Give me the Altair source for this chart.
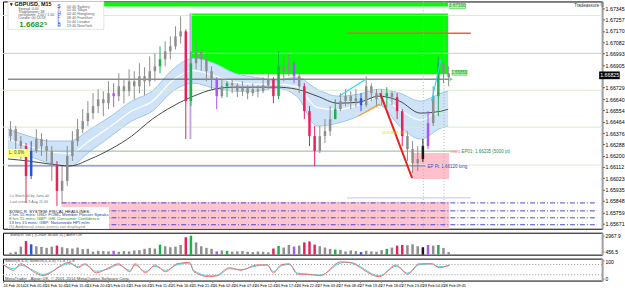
import json
import altair as alt
import pandas as pd

# ---------------- data ----------------
first_open = 1.66352
candle_close = [
    1.66406, 1.66313, 1.66274, 1.66041, 1.66236, 1.66329, 1.66274, 1.66236, 1.66119, 1.65925,
    1.66003, 1.66197, 1.66313, 1.66406, 1.66468, 1.66531, 1.66585, 1.66639, 1.66608, 1.66686,
    1.66663, 1.66740, 1.66701, 1.66779, 1.66740, 1.66818, 1.66779, 1.66857, 1.66895, 1.66950,
    1.67012, 1.67051, 1.67128, 1.67167, 1.66624, 1.66919, 1.67012, 1.66950, 1.66857, 1.66794,
    1.66663, 1.66740, 1.66763, 1.66748, 1.66701, 1.66725, 1.66686, 1.66717, 1.66701, 1.66748,
    1.66794, 1.66663, 1.66895, 1.66857, 1.66919, 1.66818, 1.66740, 1.66546, 1.66352, 1.66236,
    1.66352, 1.66391, 1.66484, 1.66562, 1.66624, 1.66663, 1.66624, 1.66647, 1.66593, 1.66740,
    1.66686, 1.66639, 1.66663, 1.66686, 1.66655, 1.66546, 1.66352, 1.66251, 1.66142, 1.66173,
    1.66274, 1.66453, 1.66663, 1.66919, 1.66841, 1.66810]
candle_high = [
    1.66468, 1.66430, 1.66352, 1.66298, 1.66313, 1.66406, 1.66375, 1.66329, 1.66274, 1.66158,
    1.66119, 1.66274, 1.66391, 1.66484, 1.66562, 1.66624, 1.66686, 1.66717, 1.66701, 1.66779,
    1.66763, 1.66841, 1.66794, 1.66872, 1.66857, 1.66919, 1.66888, 1.66973, 1.66996, 1.67051,
    1.67089, 1.67128, 1.67206, 1.67284, 1.67183, 1.67012, 1.67089, 1.67027, 1.66973, 1.66895,
    1.66810, 1.66794, 1.66779, 1.66794, 1.66763, 1.66779, 1.66748, 1.66763, 1.66748, 1.66810,
    1.66841, 1.66810, 1.67012, 1.66973, 1.66996, 1.66934, 1.66857, 1.66763, 1.66585, 1.66430,
    1.66430, 1.66484, 1.66585, 1.66639, 1.66686, 1.66717, 1.66701, 1.66717, 1.66686, 1.66818,
    1.66763, 1.66717, 1.66717, 1.66733, 1.66701, 1.66686, 1.66562, 1.66391, 1.66313, 1.66274,
    1.66329, 1.66546, 1.66740, 1.66973, 1.66950, 1.66895]
candle_low = [
    1.66313, 1.66251, 1.66173, 1.65832, 1.66018, 1.66220, 1.66197, 1.66158, 1.66003, 1.65809,
    1.65824, 1.65964, 1.66158, 1.66274, 1.66375, 1.66430, 1.66484, 1.66531, 1.66507, 1.66562,
    1.66577, 1.66624, 1.66608, 1.66663, 1.66639, 1.66686, 1.66670, 1.66740, 1.66779, 1.66841,
    1.66895, 1.66950, 1.67027, 1.67074, 1.66329, 1.66585, 1.66872, 1.66857, 1.66779, 1.66717,
    1.66562, 1.66647, 1.66655, 1.66686, 1.66655, 1.66663, 1.66639, 1.66663, 1.66655, 1.66686,
    1.66717, 1.66608, 1.66639, 1.66779, 1.66818, 1.66763, 1.66686, 1.66484, 1.66274, 1.66119,
    1.66220, 1.66298, 1.66352, 1.66484, 1.66546, 1.66585, 1.66562, 1.66577, 1.66546, 1.66577,
    1.66624, 1.66577, 1.66593, 1.66577, 1.66593, 1.66484, 1.66274, 1.66158, 1.66065, 1.66080,
    1.66150, 1.66250, 1.66430, 1.66507, 1.66763, 1.66740]
candle_signal = [
    "flat", "flat", "flat", "down", "blue", "flat", "flat", "flat", "flat", "down",
    "flat", "flat", "flat", "flat", "flat", "flat", "flat", "flat", "flat", "flat",
    "climax", "flat", "flat", "flat", "flat", "flat", "flat", "flat", "flat", "up",
    "flat", "flat", "flat", "flat", "down", "up", "flat", "flat", "flat", "flat",
    "climax", "flat", "up", "flat", "flat", "flat", "flat", "flat", "flat", "flat",
    "flat", "down", "up", "flat", "flat", "climax", "flat", "down", "down", "down",
    "flat", "flat", "flat", "up", "flat", "flat", "flat", "flat", "blue", "flat",
    "flat", "flat", "flat", "up", "flat", "down", "down", "flat", "flat", "flat",
    "dark", "climax", "flat", "up", "flat", "flat"]
volume = [
    300, 450, 1250, 2100, 1600, 1300, 1200, 1050, 1250, 1400,
    1150, 1000, 950, 1100, 850, 900, 450, 600, 550, 500,
    600, 450, 550, 500, 650, 700, 900, 1050, 950, 1550,
    1300, 1150, 1250, 1500, 2700, 2950, 1900, 1300, 1050, 900,
    500, 650, 600, 450, 500, 550, 450, 400, 500, 450,
    350, 950, 1350, 1100, 1500, 1250, 1400, 1900, 2050, 1550,
    1300, 1100, 900, 800, 750, 500, 650, 550, 400, 600,
    500, 450, 700, 900, 1100, 1400, 1500, 1450, 1600, 1300,
    1150, 1500, 1400, 1500, 1050, 400]

band_bar = [0, 20, 40, 60, 80, 100, 120, 140, 160, 180, 200, 220, 240, 260, 280,
            300, 320, 340, 360, 380, 400, 420, 427]
band_hi = [1.66407, 1.66352, 1.66314, 1.66314, 1.66407, 1.66508, 1.66624, 1.66702, 1.66872,
           1.66958, 1.66919, 1.66841, 1.66810, 1.66787, 1.66810, 1.66717, 1.66663, 1.66678,
           1.66717, 1.66686, 1.66624, 1.66686, 1.66702]
band_lo = [1.66252, 1.66197, 1.66143, 1.66120, 1.66236, 1.66352, 1.66469, 1.66546, 1.66702,
           1.66764, 1.66725, 1.66702, 1.66702, 1.66725, 1.66663, 1.66430, 1.66453, 1.66508,
           1.66593, 1.66430, 1.66329, 1.66414, 1.66430]
ma_slow = [1.66174, 1.66158, 1.66135, 1.66120, 1.66174, 1.66252, 1.66352, 1.66484, 1.66585,
           1.66663, 1.66717, 1.66733, 1.66733, 1.66733, 1.66717, 1.66663, 1.66608, 1.66616,
           1.66663, 1.66624, 1.66531, 1.66546, 1.66562]

osc_bar = [0, 10, 17, 29, 38, 63, 72, 78, 89, 101, 110, 121, 126, 136, 145, 155, 166, 178,
           182, 197, 204, 216, 227, 242, 252, 258, 265, 273, 281, 288, 303, 322, 330, 359,
           375, 386, 397, 409, 416, 426]
osc_main = [84, 46, 84, 38, 15, 92, 61, 84, 31, 61, 84, 38, 84, 31, 77, 38, 84, 92, 38, 8,
            15, 61, 46, 77, 77, 31, 77, 84, 23, 23, 15, 95, 92, 8, 77, 23, 84, 84, 61, 77]
osc_signal = [80, 55, 75, 45, 22, 85, 68, 78, 40, 55, 78, 45, 76, 38, 70, 45, 78, 88, 45, 14,
              14, 55, 50, 72, 78, 38, 70, 80, 30, 25, 18, 88, 93, 14, 70, 30, 78, 84, 66, 74]

time_ticks = list(range(0, 421, 20))
time_labels = ["24 Feb 2014", "24 Feb 05:45", "24 Feb 10:45", "24 Feb 15:45", "24 Feb 20:45",
               "25 Feb 01:45", "25 Feb 06:45", "25 Feb 11:45", "25 Feb 16:45", "25 Feb 21:45",
               "26 Feb 02:45", "26 Feb 07:45", "26 Feb 12:45", "26 Feb 17:45", "26 Feb 22:45",
               "27 Feb 03:45", "27 Feb 08:45", "27 Feb 13:45", "27 Feb 18:45", "27 Feb 23:45",
               "28 Feb 04:45", "28 Feb 09:45"]
price_ticks = [1.67345, 1.67257, 1.67170, 1.67082, 1.66993, 1.66905, 1.66729, 1.66640,
               1.66554, 1.66464, 1.66376, 1.66288, 1.66200, 1.66112, 1.66023, 1.65935,
               1.65848, 1.65759, 1.65671]
last_price = 1.66825

pale_levels = [1.67291, 1.66709, 1.66422, 1.66127]
lavender_level = 1.66996
dash_levels = [1.65832, 1.65770, 1.65716, 1.65662]

FONT = "Liberation Sans"
W, H_MAIN, H_VOL, H_OSC = 601, 228, 22, 22
X_END = 571.5                      # 1 bar ~ 1.05 px
X_DOMAIN = [0, X_END]
PRICE_DOMAIN = [1.65631, 1.67400]

xs = alt.Scale(domain=X_DOMAIN, nice=False, zero=False)
ys = alt.Scale(domain=PRICE_DOMAIN, nice=False, zero=False)
sig_domain = ["flat", "down", "up", "climax", "blue", "dark"]
sig_scale = alt.Scale(domain=sig_domain,
                      range=["#8e8e8e", "#e3245c", "#1fb04a", "#a855f7", "#2a56d6", "#1a1a1a"])
vol_sig_scale = alt.Scale(domain=sig_domain,
                          range=["#c6c6c6", "#e3245c", "#1fb04a", "#8a2be2", "#2a56d6", "#9a9a9a"])

n = len(candle_close)
cdf = pd.DataFrame({
    "bar": [i * 5 + 2.5 for i in range(n)],
    "open": [first_open] + candle_close[:-1],
    "close": candle_close, "high": candle_high, "low": candle_low,
    "sig": candle_signal, "vol": volume,
})
bdf = pd.DataFrame({"bar": band_bar, "hi": band_hi, "lo": band_lo, "ma": ma_slow})
odf = pd.DataFrame({"bar": osc_bar, "k": osc_main, "d": osc_signal})

price_axis = alt.Axis(orient="right", values=price_ticks, format=".5f", labelFontSize=5.3,
                      labelFont=FONT, labelColor="#000", tickSize=2, tickColor="#000",
                      domainColor="#a0a0a0", domainWidth=2, grid=False, title=None,
                      labelPadding=1, labelOverlap=False)


def X(f="bar", axis=None):
    return alt.X(f"{f}:Q", scale=xs, axis=axis)


def Y(f, axis=price_axis, scale=ys):
    return alt.Y(f"{f}:Q", scale=scale, axis=axis)


def rect(x1, x2, p1, p2, **kw):
    return alt.Chart(pd.DataFrame({"a": [x1], "b": [x2], "p": [p1], "q": [p2]})).mark_rect(**kw).encode(
        x=X("a"), x2="b", y=Y("p"), y2="q")


def seg(x1, x2, p1, p2, **kw):
    return alt.Chart(pd.DataFrame({"a": [x1], "b": [x2], "p": [p1], "q": [p2]})).mark_rule(**kw).encode(
        x=X("a"), x2="b", y=Y("p"), y2="q")


def hline(x1, x2, p, **kw):
    return alt.Chart(pd.DataFrame({"a": [x1], "b": [x2], "p": [p]})).mark_rule(**kw).encode(
        x=X("a"), x2="b", y=Y("p"))


def texts(bars, prices, labels, color, size=4.5, weight="normal", align="left",
          yscale=ys, yaxis=price_axis, xaxis=None):
    df = pd.DataFrame({"bar": bars, "p": prices, "t": labels})
    return alt.Chart(df).mark_text(color=color, fontSize=size, fontWeight=weight, align=align,
                                   baseline="middle", font=FONT).encode(
        x=X("bar", xaxis), y=Y("p", yaxis, yscale), text="t:N")


# ---------------- main panel ----------------
green_strip = rect(93, 427, 1.67361, 1.67392, color="#00ff00")
green_zone = rect(178, 427, 1.66834, 1.67307, color="#00ff00")
pink_zone = rect(52, 428, 1.65631, 1.65840, color="#ffc6cf")
pink_small = rect(392, 428, 1.66018, 1.66220, color="#ffc0cb")

band = alt.Chart(bdf).mark_area(color="#cfe3f8", interpolate="monotone").encode(
    x=X("bar"), y=Y("hi"), y2="lo")
band_hi_l = alt.Chart(bdf).mark_line(color="#9ec4ec", strokeWidth=1, interpolate="monotone").encode(
    x=X("bar"), y=Y("hi"))
band_lo_l = alt.Chart(bdf).mark_line(color="#9ec4ec", strokeWidth=1, interpolate="monotone").encode(
    x=X("bar"), y=Y("lo"))
band_mid = alt.Chart(bdf).transform_calculate(mid="(datum.hi + datum.lo) / 2").mark_line(
    color="#ffffff", strokeWidth=1.2, interpolate="monotone").encode(x=X("bar"), y=Y("mid"))
ma_line = alt.Chart(bdf).mark_line(color="#333333", strokeWidth=0.9, interpolate="monotone").encode(
    x=X("bar"), y=Y("ma"))

pale = alt.Chart(pd.DataFrame({"p": pale_levels})).mark_rule(color="#d9ebd2", strokeWidth=1).encode(y=Y("p"))
lav = alt.Chart(pd.DataFrame({"p": [lavender_level]})).mark_rule(color="#c8c8f2", strokeWidth=1).encode(y=Y("p"))
dashes = alt.Chart(pd.DataFrame({"p": dash_levels, "a": [52] * 4, "b": [X_END] * 4})).mark_rule(
    color="#4b4bd0", strokeWidth=1, strokeDash=[5, 2, 1, 2]).encode(x=X("a"), x2="b", y=Y("p"))
grey_line = hline(0, 428, 1.66795, color="#555555", strokeWidth=1)
ep_line = hline(0, 436, 1.66235, color="#93b593", strokeWidth=1)
entry_line = hline(0, 405, 1.66120, color="#6464e0", strokeWidth=1)
pivot_line = hline(329, 449, 1.65871, color="#c4c4f2", strokeWidth=1)
red_line = hline(329, 449, 1.67152, color="#f0603c", strokeWidth=1.5)
seps = alt.Chart(pd.DataFrame({"a": [403, 423]})).mark_rule(color="#b5b5b5", strokeDash=[1, 2]).encode(x=X("a"))
vline = seg(177, 177, 1.67307, 1.66329, color="#c9a6e6", strokeWidth=2)

wicks = alt.Chart(cdf).mark_rule(strokeWidth=1).encode(
    x=X("bar"), y=Y("low"), y2="high", color=alt.Color("sig:N", scale=sig_scale, legend=None))
bodies = alt.Chart(cdf).mark_bar(size=2.5).encode(
    x=X("bar"), y=Y("open"), y2="close", color=alt.Color("sig:N", scale=sig_scale, legend=None))

red_trend = seg(361, 392, 1.66686, 1.66026, color="#ee1c1c", strokeWidth=2)
cyan1 = seg(321, 347, 1.66663, 1.66795, color="#33d6e6", strokeWidth=1.2)
cyan2 = seg(411, 420, 1.66624, 1.66950, color="#33d6e6", strokeWidth=1.2)
orange = seg(340, 361, 1.66508, 1.66601, color="#ffa020", strokeWidth=1.2)
arrow = alt.Chart(pd.DataFrame({"bar": [430], "p": [1.66795]})).mark_point(
    shape="triangle-right", filled=True, color="#22bb22", size=12).encode(x=X("bar"), y=Y("p"))

lbl_box1 = rect(428, 444, 1.67345, 1.67380, color="#b9f3b9", stroke="#3ccc3c", strokeWidth=0.6)
lbl_box2 = rect(431, 445, 1.66826, 1.66862, color="#b9f3b9", stroke="#3ccc3c", strokeWidth=0.6)
lbl_txt = texts([436, 438], [1.67362, 1.66844], ["1.67330", "1.66860"], "#1d9a1d", size=4.5, align="center")
yellow_box = rect(0, 21, 1.66190, 1.66252, color="#ffff7a")
yellow_txt = texts([1], [1.66221], ["L: 0.0%"], "#444444", size=4.5)
ep_txt = texts([440], [1.66228], ["EP01: 1.66235  (5000 pt)"], "#2e8b57", size=4.5)
ep_pink = texts([429], [1.66228], ["1.66235"], "#f08090", size=3)
entry_txt = texts([407], [1.66112], ["EP Pt: 1.66120      long"], "#3a3ad0", size=4.5)
dtop_txt = texts([363], [1.66376], ["DOUBLE TOP"], "#e6d800", size=4)
trade_txt = texts([578], [1.67362], ["Tradeassure ©"], "#333333", size=4.5, align="right")

header_box = rect(0, 93, 1.67183, 1.67400, color="#ffffff", stroke="#d0d0d0", strokeWidth=0.6)
hdr_title = texts([2], [1.67377], ["▾ GBPUSD,  M15"], "#111111", size=5.5, weight="bold")
hdr_left = texts([10, 10, 10, 10], [1.67338, 1.67315, 1.67291, 1.67268],
                 ["Spread:  0.00", "Tradekeeper:  38", "ranVolume:  2.00 / 1.00", "Candle:  00:13:59"],
                 "#555555", size=3.6)
hdr_price = texts([11], [1.67216], ["1.6682⁵"], "#1e9a2a", size=8, weight="bold")
hdr_letters = texts([48, 48, 48, 48, 48, 48], [1.67360, 1.67330, 1.67300, 1.67270, 1.67240, 1.67210],
                    ["S", "T", "H", "F", "L", "R"], "#5a5ae0", size=4.5, weight="bold")
hdr_sess = texts([57] * 6, [1.67360, 1.67330, 1.67300, 1.67270, 1.67240, 1.67210],
                 ["00:40  Sydney", "02:40  Tokyo", "04:40  Hongkong", "08:40  Frankfurt",
                  "10:40  London", "13:40  NewYork"], "#666666", size=3.8)

news_box = rect(0, 98, 1.65631, 1.65801, color="#ffffff")
news_head = texts([1], [1.65765], ["SONIC R. SYSTEM: FISCAL HEADLINES:"], "#222222", size=4.3)
news_blue = texts([1, 1], [1.65735, 1.65675],
                  ["2 hrs 15 mins: USD: FOMC Member Plosser Speaks", "13 hrs 15 mins: GBP: Nationwide HPI m/m"],
                  "#2040d0", size=4.3)
news_green = texts([1], [1.65705], ["8 hrs 15 mins: GBP: GfK Consumer Confidence"], "#1a9a1a", size=4.3)
news_gray = texts([1], [1.65647], ["(5) Additional news events not displayed"], "#8a8a8a", size=4.3)
stoch_note = texts([2, 2], [1.65887, 1.65840], ["Lv Stoch alt by Jana alt", "Last cross 3 Aug 11:00"],
                   "#777777", size=3.8)

price_box = rect(573.5, 593.5, 1.66795, 1.66855, color="#000000")
price_txt = texts([574.5], [1.66825], ["1.66825"], "#ffffff", size=5.3)

main = alt.layer(
    green_strip, green_zone, pink_zone, pink_small, band, band_hi_l, band_lo_l, band_mid,
    pale, lav, dashes, grey_line, ep_line, entry_line, pivot_line, red_line, seps, vline,
    ma_line, wicks, bodies, red_trend, cyan1, cyan2, orange, arrow,
    lbl_box1, lbl_box2, lbl_txt, yellow_box, yellow_txt, ep_txt, ep_pink, entry_txt, dtop_txt, trade_txt,
    header_box, hdr_title, hdr_left, hdr_price, hdr_letters, hdr_sess,
    news_box, news_head, news_blue, news_green, news_gray, stoch_note, price_box, price_txt,
).properties(width=W, height=H_MAIN)

# ---------------- volume panel ----------------
vs = alt.Scale(domain=[0, 3400], nice=False, zero=True)
vol_axis = alt.Axis(orient="right", values=[2967.9, 456.5], format=".1f", labelFontSize=5,
                    labelFont=FONT, labelColor="#000", tickSize=2, domainColor="#a0a0a0", domainWidth=2,
                    grid=False, title=None, labelPadding=1, labelOverlap=False)
vol_bars = alt.Chart(cdf).mark_bar(size=2.5).encode(
    x=X("bar"), y=Y("vol", vol_axis, vs),
    color=alt.Color("sig:N", scale=vol_sig_scale, legend=None))
vol_txt = texts([2], [3050], ["SonicR Vol  |  (Chart Scale 3)  |  Alert On"], "#444444", size=4.3,
                yscale=vs, yaxis=vol_axis)
vol = alt.layer(vol_bars, vol_txt).properties(width=W, height=H_VOL)

# ---------------- oscillator panel ----------------
os_ = alt.Scale(domain=[-14, 114], nice=False, zero=False)
x_axis = alt.Axis(values=time_ticks, labelExpr=f"{json.dumps(time_labels)}[round(datum.value / 20)]",
                  labelAlign="left", labelFontSize=3.8, labelFont=FONT, tickSize=2, labelPadding=1,
                  domain=False, grid=False, title=None, labelColor="#000", labelOverlap=False)
osc_axis = alt.Axis(orient="right", values=[100, 0], labelFontSize=5, labelFont=FONT, labelColor="#000",
                    tickSize=2, domainColor="#a0a0a0", domainWidth=2, grid=False, title=None,
                    labelPadding=1)
osc_levels = alt.Chart(pd.DataFrame({"v": [80, 20]})).mark_rule(color="#999999", strokeDash=[1, 2]).encode(
    y=Y("v", osc_axis, os_))
osc_d = alt.Chart(odf).mark_line(color="#40d8d8", strokeWidth=1, interpolate="monotone").encode(
    x=X("bar", x_axis), y=Y("d", osc_axis, os_))
osc_k = alt.Chart(odf).mark_line(color="#f07070", strokeWidth=1, interpolate="monotone").encode(
    x=X("bar", x_axis), y=Y("k", osc_axis, os_))
osc_txt = texts([2, 2], [100, -4], ["Stoch(8,3,3) SonicR(5,3,3)  71.4  71.8",
                                    "MetaTrader - Alpari UK, © 2001-2014 MetaQuotes Software Corp."],
                "#444444", size=4.3, yscale=os_, yaxis=osc_axis, xaxis=x_axis)
osc = alt.layer(osc_levels, osc_d, osc_k, osc_txt).properties(width=W, height=H_OSC)

chart = alt.vconcat(main, vol, osc, spacing=2).properties(padding=0, background="#ffffff").configure_view(
    stroke="#000000", strokeWidth=1)

chart.save("out.html", embed_options={"renderer": "svg", "actions": False})
